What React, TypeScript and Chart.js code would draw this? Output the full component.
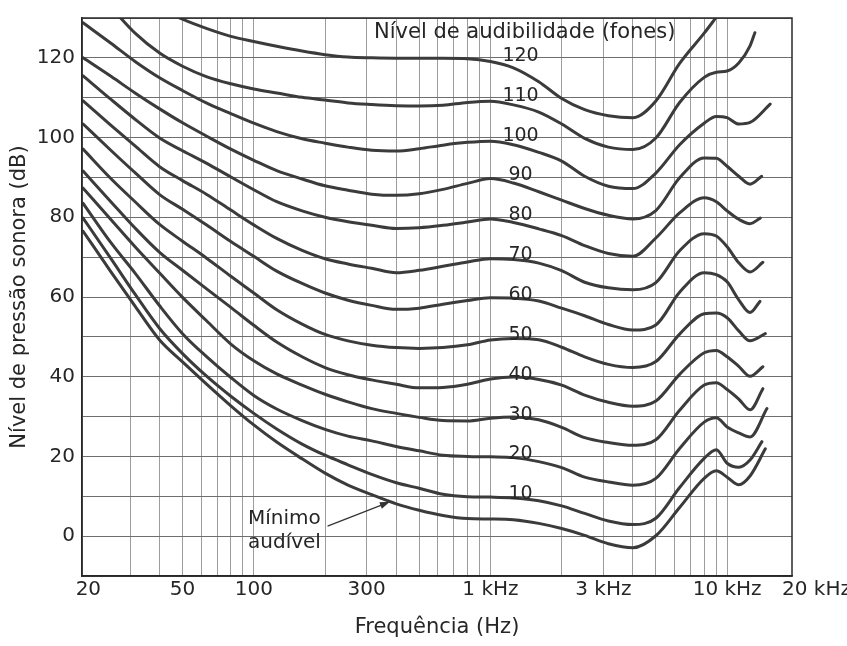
import { useEffect, useRef } from 'react';
import { Chart, registerables } from 'chart.js';

Chart.register(...registerables);

// ---------- data (frequency in Hz, level in dB SPL) ----------
const FREQ_HZ = [19, 25, 31.5, 40, 50, 63, 80, 100, 125, 160, 200, 250, 315, 400, 500, 630, 800, 1000, 1250, 1600, 2000, 2500, 3150, 4000, 5000, 6300, 8000, 9000, 10000, 11200, 12500];

const SPL_120 = [null, null, null, 132.5, 129.7, 127.4, 125.4, 124.1, 122.9, 121.7, 120.8, 120.2, 120.0, 119.9, 119.9, 119.9, 119.8, 119.1, 117.5, 114.0, 109.8, 107.0, 105.5, 105.0, 109.2, 118.6, 126.2, 130.2, 133.8, null, null];
const SPL_110 = [null, 132.6, 126.2, 121.2, 117.9, 115.3, 113.5, 112.2, 111.2, 110.1, 109.4, 108.7, 108.3, 108.0, 107.9, 108.1, 108.8, 109.1, 108.2, 106.4, 103.4, 99.8, 97.6, 97.0, 99.9, 108.8, 115.1, 116.4, 116.7, 118.7, 123.0];
const SPL_100 = [128.8, 123.6, 119.1, 115.0, 111.8, 108.7, 106.0, 103.6, 101.5, 99.7, 98.6, 97.6, 96.8, 96.6, 97.2, 98.1, 98.8, 99.1, 98.2, 96.3, 94.1, 90.3, 87.8, 87.2, 91.1, 98.2, 103.6, 105.3, 105.0, 103.4, 103.8];
const SPL_90 = [120.0, 115.3, 111.2, 107.2, 103.7, 100.4, 97.1, 94.3, 91.7, 89.6, 87.9, 86.8, 85.8, 85.5, 85.9, 87.0, 88.5, 89.7, 88.6, 86.4, 84.3, 82.2, 80.5, 79.6, 81.7, 89.9, 94.9, 94.8, 92.8, 90.3, 88.3];
const SPL_80 = [115.5, 109.5, 104.6, 99.9, 96.7, 93.6, 90.1, 86.9, 83.9, 81.6, 80.0, 78.9, 78.0, 77.2, 77.4, 78.0, 78.8, 79.6, 78.7, 77.1, 75.4, 72.9, 70.9, 70.2, 74.8, 81.1, 84.9, 83.9, 81.6, 79.5, 78.4];
const SPL_70 = [109.2, 103.0, 97.9, 92.7, 89.2, 85.8, 81.8, 78.1, 74.7, 71.7, 69.6, 68.3, 67.2, 66.1, 66.7, 67.7, 68.8, 69.6, 69.4, 68.5, 66.6, 63.7, 62.3, 61.8, 63.6, 71.6, 75.9, 75.3, 72.6, 68.6, 66.3];
const SPL_60 = [103.4, 96.7, 91.2, 85.7, 82.0, 78.1, 73.9, 70.2, 66.5, 63.4, 61.0, 59.2, 57.9, 56.9, 57.2, 58.2, 59.1, 59.8, 59.7, 59.0, 57.2, 55.3, 53.1, 51.7, 53.0, 61.2, 66.1, 65.6, 63.8, 59.3, 56.1];
const SPL_50 = [97.1, 89.6, 83.9, 78.2, 74.0, 69.8, 65.2, 61.0, 56.8, 53.2, 50.6, 49.0, 47.9, 47.3, 47.1, 47.3, 48.0, 49.2, 49.6, 49.3, 47.4, 45.0, 43.1, 42.3, 43.8, 50.7, 55.8, 56.0, 54.8, 51.5, 49.0];
const SPL_40 = [91.6, 83.8, 77.3, 71.2, 66.7, 62.1, 57.4, 52.9, 48.7, 45.0, 42.3, 40.5, 39.2, 38.1, 37.2, 37.3, 38.1, 39.4, 39.9, 39.3, 37.9, 35.4, 33.6, 32.6, 33.9, 40.6, 46.0, 46.6, 45.0, 42.6, 40.1];
const SPL_30 = [87.3, 79.3, 72.6, 66.0, 59.9, 54.1, 48.2, 44.0, 40.7, 37.9, 35.6, 33.7, 32.0, 30.8, 29.8, 29.0, 28.9, 29.6, 29.9, 29.2, 27.3, 24.7, 23.5, 22.8, 24.2, 31.6, 37.9, 38.5, 36.8, 34.4, 31.7];
const SPL_20 = [83.5, 73.5, 66.0, 57.8, 50.8, 45.1, 39.8, 35.3, 31.9, 29.0, 26.8, 25.1, 23.9, 22.5, 21.4, 20.3, 20.0, 19.9, 19.7, 18.7, 17.2, 14.8, 13.6, 12.8, 14.5, 22.0, 28.6, 29.7, 27.4, 25.9, 24.9];
const SPL_10 = [79.8, 69.5, 60.7, 52.1, 45.8, 40.2, 35.1, 30.8, 26.9, 23.1, 20.3, 17.9, 15.5, 13.4, 12.0, 10.5, 9.9, 9.8, 9.6, 8.9, 7.6, 5.7, 3.8, 2.9, 4.5, 12.2, 19.5, 21.7, 18.3, 17.3, 19.1];
const SPL_MIN = [76.5, 66.2, 57.7, 49.2, 43.7, 38.2, 32.7, 27.9, 23.6, 19.4, 15.8, 12.8, 10.4, 8.1, 6.5, 5.2, 4.4, 4.3, 4.1, 3.2, 1.9, 0.2, -1.9, -2.9, 0.1, 7.2, 14.5, 16.4, 14.8, 12.9, 15.1];

// final hook point of each curve (same order as the curves)
const TAIL_HZ = [null, 13100, 15200, 14000, 13800, 14160, 13760, 14500, 14160, 14160, 14730, 14030, 14500];
const TAIL_DB = [null, 126.3, 108.4, 90.3, 79.8, 68.7, 58.9, 50.8, 42.5, 37.0, 32.0, 23.7, 21.9];

const SERIES_NAMES = ['120 fones', '110 fones', '100 fones', '90 fones', '80 fones', '70 fones', '60 fones', '50 fones', '40 fones', '30 fones', '20 fones', '10 fones', 'Mínimo audível'];
const PHON_LEVELS = [120, 110, 100, 90, 80, 70, 60, 50, 40, 30, 20, 10];
const PHON_LABEL_HZ = 1340;

const GRID_HZ = [20, 30, 40, 50, 60, 70, 80, 90, 100, 200, 300, 400, 500, 600, 700, 800, 900, 1000, 2000, 3000, 4000, 5000, 6000, 7000, 8000, 9000, 10000];
const LABELED_HZ = [20, 50, 100, 300, 1000, 3000, 10000];
const X_LABEL_TEXT = ['20', '50', '100', '300', '1 kHz', '3 kHz', '10 kHz'];
const Y_LABELED = [0, 20, 40, 60, 80, 100, 120];

const ARROW_FROM = { hz: 205, db: 2.5 };
const ARROW_TO = { hz: 376, db: 8.6 };

const X_MIN_HZ = 18.8;
const X_MAX_HZ = 18800;
const Y_MIN = -10;
const Y_MAX = 130;

// ---------- styles ----------
const FONT = 'DejaVu Sans';
const TEXT = '#262626';
const CURVE = '#3b3b3b';

export default function App() {
  const ref = useRef<HTMLCanvasElement>(null);

  useEffect(() => {
    document.body.style.margin = '0';
    const series = [SPL_120, SPL_110, SPL_100, SPL_90, SPL_80, SPL_70, SPL_60, SPL_50, SPL_40, SPL_30, SPL_20, SPL_10, SPL_MIN];
    const datasets = series.map((vals, i) => {
      const pts: { x: number; y: number }[] = [];
      FREQ_HZ.forEach((f, j) => {
        const v = vals[j];
        if (v !== null && v !== undefined) pts.push({ x: f, y: v as number });
      });
      if (TAIL_HZ[i] !== null) pts.push({ x: TAIL_HZ[i] as number, y: TAIL_DB[i] as number });
      return {
        label: SERIES_NAMES[i],
        data: pts,
        borderColor: CURVE,
        borderWidth: 3,
        pointRadius: 0,
        fill: false,
        cubicInterpolationMode: 'monotone' as const,
        borderCapStyle: 'round' as const,
        borderJoinStyle: 'round' as const,
      };
    });

    const overlay = {
      id: 'overlay',
      afterDraw(chart: any) {
        const { ctx, chartArea: a } = chart;
        const xs = chart.scales.x;
        const ys = chart.scales.y;
        ctx.save();
        ctx.strokeStyle = '#2a2a2a';
        ctx.lineWidth = 1.5;
        ctx.strokeRect(a.left, a.top, a.right - a.left, a.bottom - a.top);

        ctx.fillStyle = TEXT;
        ctx.textBaseline = 'middle';
        ctx.textAlign = 'left';
        ctx.font = `21px "${FONT}"`;
        ctx.fillText('Nível de audibilidade (fones)', 374, 33);

        ctx.font = `19px "${FONT}"`;
        ctx.textAlign = 'center';
        PHON_LEVELS.forEach((p) => {
          ctx.fillText(String(p), xs.getPixelForValue(PHON_LABEL_HZ), ys.getPixelForValue(p + 0.5));
        });

        ctx.font = `20px "${FONT}"`;
        ctx.textAlign = 'left';
        ctx.fillText('Mínimo', 248, 519);
        ctx.fillText('audível', 248, 543);
        ctx.fillText('20 kHz', 782, 590);

        // arrow
        const x1 = xs.getPixelForValue(ARROW_FROM.hz);
        const y1 = ys.getPixelForValue(ARROW_FROM.db);
        const x2 = xs.getPixelForValue(ARROW_TO.hz);
        const y2 = ys.getPixelForValue(ARROW_TO.db);
        const ang = Math.atan2(y2 - y1, x2 - x1);
        ctx.strokeStyle = '#333';
        ctx.lineWidth = 1.2;
        ctx.beginPath();
        ctx.moveTo(x1, y1);
        ctx.lineTo(x2 - 7 * Math.cos(ang), y2 - 7 * Math.sin(ang));
        ctx.stroke();
        ctx.fillStyle = '#333';
        ctx.beginPath();
        ctx.moveTo(x2, y2);
        ctx.lineTo(x2 - 10 * Math.cos(ang) + 3.5 * Math.sin(ang), y2 - 10 * Math.sin(ang) - 3.5 * Math.cos(ang));
        ctx.lineTo(x2 - 10 * Math.cos(ang) - 3.5 * Math.sin(ang), y2 - 10 * Math.sin(ang) + 3.5 * Math.cos(ang));
        ctx.closePath();
        ctx.fill();
        ctx.restore();
      },
    };

    const chart = new Chart(ref.current as HTMLCanvasElement, {
      type: 'line',
      data: { datasets },
      options: {
        animation: false,
        responsive: false,
        devicePixelRatio: 1,
        layout: { padding: { top: 18, right: 55, bottom: 0, left: 0 } },
        plugins: { legend: { display: false }, tooltip: { enabled: false } },
        scales: {
          x: {
            type: 'logarithmic',
            min: X_MIN_HZ,
            max: X_MAX_HZ,
            bounds: 'data',
            afterBuildTicks: (s: any) => {
              s.ticks = GRID_HZ.map((v) => ({ value: v }));
            },
            afterFit: (s: any) => {
              s.height = 70;
              s.paddingLeft = 0;
              s.paddingRight = 0;
            },
            ticks: {
              autoSkip: false,
              maxRotation: 0,
              minRotation: 0,
              padding: 2,
              color: TEXT,
              font: { family: FONT, size: 20 },
              callback: (v: any) => {
                const k = LABELED_HZ.indexOf(Number(v));
                return k >= 0 ? X_LABEL_TEXT[k] : '';
              },
            },
            grid: {
              color: (c: any) => (c.tick && c.tick.value === 20 ? 'rgba(0,0,0,0)' : '#9c9c9c'),
              lineWidth: 1,
              drawTicks: false,
            },
            border: { color: '#222', width: 1.5 },
            title: {
              display: true,
              text: 'Frequência (Hz)',
              color: TEXT,
              font: { family: FONT, size: 21 },
              padding: { top: 0, bottom: 6 },
            },
          },
          y: {
            type: 'linear',
            min: Y_MIN,
            max: Y_MAX,
            afterFit: (s: any) => {
              s.width = 82;
              s.paddingTop = 0;
              s.paddingBottom = 0;
            },
            ticks: {
              stepSize: 10,
              padding: 7,
              color: TEXT,
              font: { family: FONT, size: 20 },
              callback: (v: any) => (Y_LABELED.includes(Number(v)) ? String(v) : ''),
            },
            grid: { color: '#6e6e6e', lineWidth: 1, drawTicks: false },
            border: { color: '#222', width: 1.5 },
            title: {
              display: true,
              text: 'Nível de pressão sonora (dB)',
              color: TEXT,
              font: { family: FONT, size: 21 },
              padding: { top: 7, bottom: 0 },
            },
          },
        },
      },
      plugins: [overlay],
    } as any);

    return () => chart.destroy();
  }, []);

  return <canvas ref={ref} width={847} height={646} style={{ display: 'block', width: 847, height: 646 }} />;
}
